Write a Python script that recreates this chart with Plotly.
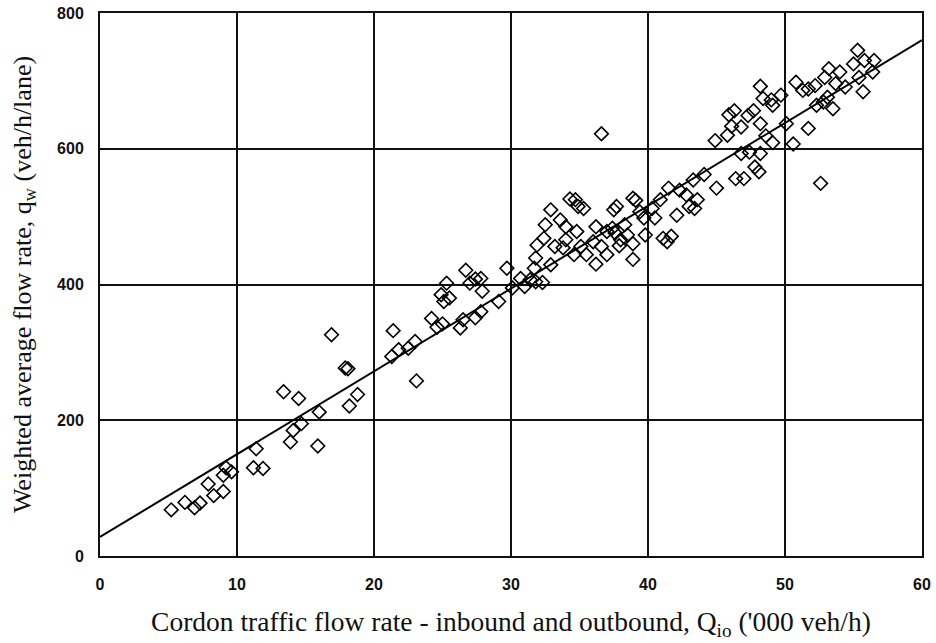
import plotly.graph_objects as go

# Observed points: cordon flow ('000 veh/h) vs weighted average flow (veh/h/lane)
cordon_flow = [
    5.2, 6.2, 6.9, 7.3, 7.9, 8.3, 9.0, 9.0, 9.2, 9.6, 11.4, 11.2, 11.9, 13.4, 14.5, 13.9, 14.1, 14.7,
    16.0, 15.9, 16.9, 18.2, 18.8, 17.9, 18.1, 21.4, 21.3, 21.8, 22.5, 23.0, 23.1, 24.2, 24.6, 25.0,
    24.9, 25.1, 25.5, 25.3, 26.3, 26.5, 26.7, 27.0, 27.4, 27.8, 27.9, 27.4, 27.8, 29.1, 29.7, 30.1,
    30.7, 31.0, 31.4, 31.8, 32.3, 31.7, 31.8, 31.9, 32.4, 32.5, 32.9, 32.9, 33.2, 33.6, 34.0, 34.0,
    33.8, 34.3, 34.7, 34.9, 35.3, 34.8, 34.6, 35.1, 35.5, 36.2, 36.2, 36.0, 36.6, 37.0, 37.0, 37.4,
    37.5, 37.7, 37.6, 38.0, 37.9, 38.3, 38.5, 38.9, 39.1, 38.9, 38.9, 39.4, 39.8, 39.7, 40.3, 40.5,
    40.9, 41.1, 41.7, 41.4, 41.5, 42.1, 42.3, 42.8, 43.0, 43.4, 43.6, 43.3, 44.1, 45.0, 44.9, 45.8,
    45.9, 36.6, 46.3, 47.3, 47.7, 46.1, 46.8, 48.2, 48.6, 49.1, 46.8, 47.4, 48.2, 47.8, 48.1, 46.4,
    47.0, 48.2, 48.4, 49.0, 49.1, 49.7, 50.1, 51.7, 50.6, 52.6, 50.8, 51.3, 51.7, 52.2, 53.1, 52.8,
    52.3, 53.5, 53.2, 54.0, 52.9, 53.7, 54.4, 55.3, 55.8, 56.5, 55.0, 56.4, 55.4, 55.7,
]
weighted_flow = [
    68, 79, 71, 78, 106, 89, 95, 119, 130, 124, 158, 130, 129, 242, 232, 168, 185, 195,
    212, 162, 326, 221, 238, 277, 276, 332, 294, 304, 306, 316, 258, 350, 337, 342,
    385, 375, 380, 402, 336, 348, 421, 402, 408, 409, 390, 351, 360, 375, 424, 395,
    409, 397, 407, 404, 403, 424, 439, 458, 468, 488, 510, 429, 456, 495, 485, 466,
    454, 526, 525, 515, 512, 478, 444, 456, 444, 430, 485, 463, 456, 444, 478, 483,
    510, 515, 476, 466, 457, 488, 473, 527, 524, 460, 437, 507, 473, 498, 512, 498,
    525, 468, 471, 463, 542, 502, 539, 532, 515, 512, 525, 554, 562, 542, 612, 620,
    650, 622, 656, 649, 656, 633, 632, 637, 619, 609, 593, 595, 593, 573, 566, 556,
    556, 692, 674, 672, 664, 679, 637, 630, 607, 549, 698, 686, 688, 693, 676, 669,
    664, 659, 718, 713, 705, 696, 691, 745, 730, 730, 725, 713, 705, 684,
]

# Fitted regression line
fit_intercept = 28
fit_slope = 12.2
fit_x = [0, 60]
fit_y = [fit_intercept + fit_slope * v for v in fit_x]

x_ticks = [0, 10, 20, 30, 40, 50, 60]
y_ticks = [0, 200, 400, 600, 800]

fig = go.Figure()
fig.add_trace(go.Scatter(
    x=fit_x, y=fit_y, mode="lines",
    line=dict(color="black", width=2), showlegend=False, hoverinfo="skip",
))
fig.add_trace(go.Scatter(
    x=cordon_flow, y=weighted_flow, mode="markers",
    marker=dict(symbol="diamond-open", size=10.5, color="black", line=dict(width=1.6, color="black")),
    showlegend=False,
))

tick_font = dict(family="Liberation Sans", size=16, color="#111")
title_font_x = dict(family="Liberation Serif", size=27.5, color="#111")
title_font_y = dict(family="Liberation Serif", size=26, color="#111")

fig.update_layout(
    width=936, height=643,
    margin=dict(l=100, r=14, t=13, b=87),
    paper_bgcolor="white", plot_bgcolor="white",
    xaxis=dict(
        range=[0, 60], tickvals=x_ticks, ticktext=[f"<b>{v}</b>" for v in x_ticks],
        showgrid=True, gridcolor="#111", gridwidth=1.5,
        showline=True, linecolor="#111", linewidth=2, mirror=True,
        zeroline=False, ticks="", tickfont=tick_font, ticklabelstandoff=13,
        automargin=False,
        title=dict(text="Cordon traffic flow rate - inbound and outbound, Q<sub>io</sub> ('000 veh/h)",
                   font=title_font_x, standoff=20),
    ),
    yaxis=dict(
        range=[0, 800], tickvals=y_ticks, ticktext=[f"<b>{v}</b>" for v in y_ticks],
        showgrid=True, gridcolor="#111", gridwidth=1.5,
        showline=True, linecolor="#111", linewidth=2, mirror=True,
        zeroline=False, ticks="", tickfont=tick_font, ticklabelstandoff=11,
        automargin=False,
        title=dict(text="Weighted average flow rate, q<sub>w</sub> (veh/h/lane)",
                   font=title_font_y, standoff=18),
    ),
)

fig.write_html(
    "out.html",
    config={"displayModeBar": False},
    post_script="document.body.style.margin='0';document.body.style.padding='0';",
)
